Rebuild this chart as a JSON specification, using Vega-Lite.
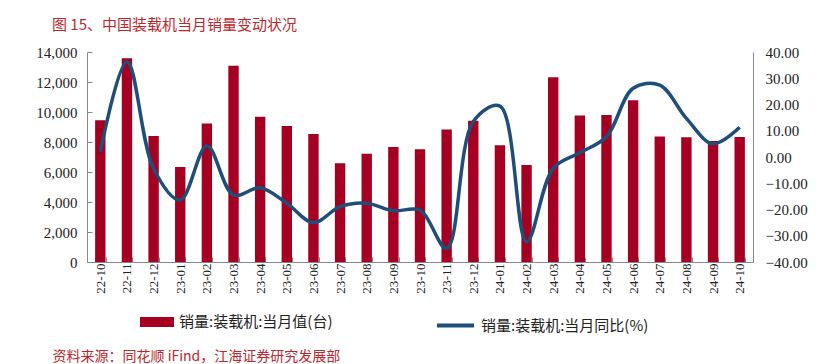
{
  "$schema": "https://vega.github.io/schema/vega-lite/v6.json",
  "width": 666,
  "height": 210,
  "autosize": {"type": "none"},
  "padding": {"left": 87, "top": 52, "right": 71, "bottom": 102},
  "background": "white",
  "config": {"view": {"stroke": null}},
  "title": {
    "text": "图 15、中国装载机当月销量变动状况",
    "anchor": "start",
    "frame": "group",
    "orient": "top",
    "dx": -35,
    "offset": 12,
    "font": "Noto Sans CJK SC",
    "fontSize": 15,
    "fontWeight": "normal",
    "color": "#B8282E"
  },
  "data": {
    "values": [
      {"m": "22-10", "v": 9450, "yoy": 2.0},
      {"m": "22-11", "v": 13580, "yoy": 36.3},
      {"m": "22-12", "v": 8400, "yoy": -4.5},
      {"m": "23-01", "v": 6330, "yoy": -16.4},
      {"m": "23-02", "v": 9240, "yoy": 4.2},
      {"m": "23-03", "v": 13090, "yoy": -14.5},
      {"m": "23-04", "v": 9690, "yoy": -11.7},
      {"m": "23-05", "v": 9070, "yoy": -17.6},
      {"m": "23-06", "v": 8530, "yoy": -25.0},
      {"m": "23-07", "v": 6580, "yoy": -18.9},
      {"m": "23-08", "v": 7220, "yoy": -17.6},
      {"m": "23-09", "v": 7670, "yoy": -20.5},
      {"m": "23-10", "v": 7510, "yoy": -20.3},
      {"m": "23-11", "v": 8840, "yoy": -34.8},
      {"m": "23-12", "v": 9420, "yoy": 13.5},
      {"m": "24-01", "v": 7780, "yoy": 19.4},
      {"m": "24-02", "v": 6470, "yoy": -32.3},
      {"m": "24-03", "v": 12310, "yoy": -4.3},
      {"m": "24-04", "v": 9760, "yoy": 1.6},
      {"m": "24-05", "v": 9800, "yoy": 7.7},
      {"m": "24-06", "v": 10780, "yoy": 26.2},
      {"m": "24-07", "v": 8360, "yoy": 27.4},
      {"m": "24-08", "v": 8310, "yoy": 14.7},
      {"m": "24-09", "v": 8070, "yoy": 5.0},
      {"m": "24-10", "v": 8330, "yoy": 11.3}
    ]
  },
  "encoding": {
    "x": {
      "field": "m",
      "type": "nominal",
      "sort": null,
      "scale": {"paddingInner": 0.61, "paddingOuter": 0.305},
      "axis": {
        "title": "资料来源：同花顺 iFind，江海证券研究发展部",
        "titleFont": "Noto Sans CJK SC",
        "titleFontSize": 14,
        "titleFontWeight": "normal",
        "titleColor": "#B8282E",
        "titleAnchor": "start",
        "titleAlign": "left",
        "titleBaseline": "alphabetic",
        "titleX": -35,
        "titleY": 98,
        "labelAngle": -90,
        "labelFont": "Liberation Serif",
        "labelFontSize": 13,
        "labelColor": "#222",
        "labelPadding": 6,
        "tickBand": "extent",
        "tickSize": -5,
        "tickColor": "#888",
        "domainColor": "#888"
      }
    }
  },
  "layer": [
    {
      "mark": {"type": "bar"},
      "encoding": {
        "y": {
          "field": "v",
          "type": "quantitative",
          "scale": {"domain": [0, 14000], "nice": false},
          "axis": {
            "orient": "left",
            "title": null,
            "values": [0, 2000, 4000, 6000, 8000, 10000, 12000, 14000],
            "format": ",.0f",
            "grid": false,
            "labelFont": "Liberation Serif",
            "labelFontSize": 15,
            "labelColor": "#222",
            "tickSize": -5,
            "labelPadding": 15,
            "tickColor": "#888",
            "domainColor": "#888"
          }
        },
        "fill": {
          "datum": "销量:装载机:当月值(台)",
          "scale": {"range": ["#A50021"]},
          "legend": {
            "orient": "none",
            "legendX": 53,
            "legendY": 253,
            "title": null,
            "symbolType": "M-1,-0.29H1V0.29H-1Z",
            "symbolSize": 1156,
            "symbolStrokeWidth": 0,
            "labelOffset": 5,
            "labelLimit": 400,
            "labelFont": "Noto Sans CJK SC",
            "labelFontSize": 15,
            "labelColor": "#222",
            "padding": 0
          }
        }
      }
    },
    {
      "mark": {"type": "line", "interpolate": "catmull-rom", "strokeWidth": 3.5},
      "encoding": {
        "y": {
          "field": "yoy",
          "type": "quantitative",
          "scale": {"domain": [-40, 40], "nice": false},
          "axis": {
            "orient": "right",
            "title": null,
            "values": [-40, -30, -20, -10, 0, 10, 20, 30, 40],
            "format": ".2f",
            "grid": false,
            "ticks": false,
            "labelFont": "Liberation Serif",
            "labelFontSize": 15,
            "labelColor": "#222",
            "labelPadding": 12,
            "domainColor": "#888"
          }
        },
        "stroke": {
          "datum": "销量:装载机:当月同比(%)",
          "scale": {"range": ["#1F4E79"]},
          "legend": {
            "orient": "none",
            "legendX": 348,
            "legendY": 253,
            "title": null,
            "symbolType": "stroke",
            "symbolSize": 1369,
            "symbolStrokeWidth": 4,
            "labelOffset": 5,
            "labelLimit": 400,
            "labelFont": "Noto Sans CJK SC",
            "labelFontSize": 15,
            "labelColor": "#222",
            "padding": 0
          }
        }
      }
    }
  ],
  "resolve": {"scale": {"y": "independent"}}
}
